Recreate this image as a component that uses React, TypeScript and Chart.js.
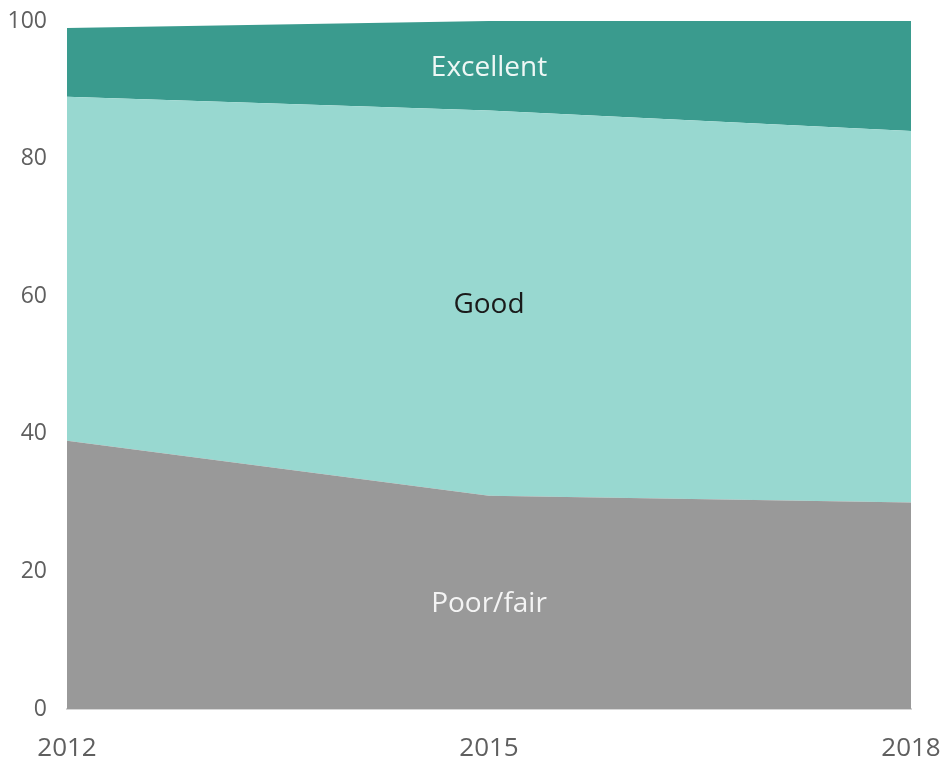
import React, { useEffect, useRef } from "react";
import { Chart, registerables } from "chart.js";

Chart.register(...registerables);

const years = ["2012", "2015", "2018"];
const poorFair = [39, 31, 30];
const good = [50, 56, 54];
const excellent = [10, 13, 16];
const seriesNames = ["Poor/fair", "Good", "Excellent"];
const seriesColors = ["#999999", "#98d8d0", "#3a9b8e"];
const labelColors = ["#f4f4f4", "#1a1a1a", "#eef7f5"];
const FONT = "'Open Sans', sans-serif";

const areaLabelPlugin = {
  id: "areaLabels",
  afterDatasetsDraw(chart: any) {
    const { ctx, scales } = chart;
    const xs = scales.x;
    const ys = scales.y;
    const mid = 1;
    const x = xs.getPixelForValue(mid);
    let base = 0;
    ctx.save();
    ctx.font = `28px ${FONT}`;
    ctx.textAlign = "center";
    ctx.textBaseline = "middle";
    chart.data.datasets.forEach((ds: any, i: number) => {
      const v = ds.data[mid];
      const y = ys.getPixelForValue(base + v / 2);
      base += v;
      ctx.fillStyle = labelColors[i];
      ctx.fillText(seriesNames[i], x, y + 2);
    });
    ctx.restore();
  },
};

const zeroPad = (s: any) => {
  s.paddingLeft = 0;
  s.paddingRight = 0;
  s.paddingTop = 0;
  s.paddingBottom = 0;
};

export default function App() {
  const ref = useRef<HTMLCanvasElement>(null);
  useEffect(() => {
    if (!ref.current) return;
    const values = [poorFair, good, excellent];
    const chart = new Chart(ref.current, {
      type: "line",
      data: {
        labels: years,
        datasets: values.map((d, i) => ({
          label: seriesNames[i],
          data: d,
          backgroundColor: seriesColors[i],
          borderColor: seriesColors[i],
          borderWidth: 0,
          pointRadius: 0,
          tension: 0,
          fill: i === 0 ? "origin" : "-1",
        })),
      },
      options: {
        responsive: false,
        animation: false,
        layout: { padding: { top: 21, right: 34, left: 0, bottom: 0 } },
        plugins: { legend: { display: false }, tooltip: { enabled: false } },
        scales: {
          x: {
            offset: false,
            grid: { display: false, drawTicks: false },
            border: { display: true, color: "#d6d6d6", width: 2 },
            ticks: {
              color: "#5f5f5f",
              font: { family: FONT, size: 26 },
              padding: 24,
              maxRotation: 0,
            },
            afterFit: (s: any) => {
              s.height = 53;
              zeroPad(s);
            },
          },
          y: {
            stacked: true,
            min: 0,
            max: 100,
            grid: { display: false, drawTicks: false },
            border: { display: false },
            ticks: {
              stepSize: 20,
              color: "#5f5f5f",
              font: { family: FONT, size: 23 },
              padding: 20,
            },
            afterFit: (s: any) => {
              s.width = 67;
              zeroPad(s);
            },
          },
        },
      },
      plugins: [areaLabelPlugin],
    });
    return () => chart.destroy();
  }, []);
  return (
    <div style={{ position: "fixed", left: 0, top: 0, width: 945, height: 762 }}>
      <canvas ref={ref} width={945} height={762} style={{ display: "block" }} />
    </div>
  );
}
